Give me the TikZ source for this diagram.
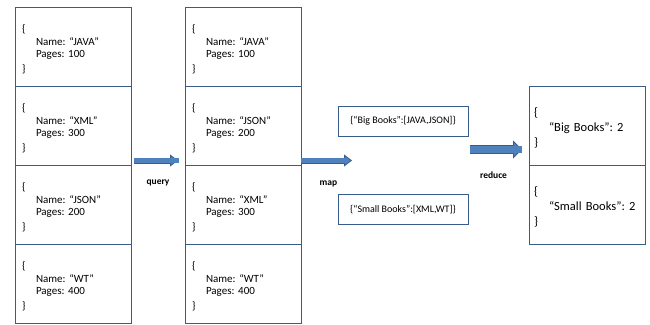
\documentclass[tikz,border=0pt]{standalone}
\usepackage{fontspec}
\setmainfont{Carlito}
\usetikzlibrary{positioning,arrows.meta}

\definecolor{boxline}{HTML}{385D8A}
\definecolor{arrowfill}{HTML}{4F81BD}
\definecolor{arrowedge}{HTML}{385D8A}

% one book record
\newcommand{\book}[2]{\rule{0pt}{14pt}\{\\[1pt]\hspace*{14pt}Name: “#1”\\\hspace*{14pt}Pages: #2\\[3pt]\}}

\begin{document}
\frenchspacing
\begin{tikzpicture}
  [
    x                  = 1pt,
    y                  = -1pt,
    bookbox/.style     = {draw=boxline, line width=1pt, outer sep=0pt, align=left, text width=102pt,
                          inner xsep=7pt, minimum height=79pt, font=\fontsize{11}{12}\selectfont},
    groupbox/.style    = {draw=boxline, line width=1pt, outer sep=0pt, minimum width=130pt,
                          minimum height=30pt, inner sep=0pt, font=\fontsize{10}{12}\selectfont},
    countbox/.style    = {draw=boxline, line width=1pt, outer sep=0pt, align=left, text width=106pt,
                          inner xsep=5pt, minimum height=79pt, font=\fontsize{12.5}{15}\selectfont},
    blockarrow/.style  = {draw=arrowedge, line width=6pt,
                          -{Triangle[length=8pt, width=12pt, line width=0.8pt, fill=arrowfill]},
                          postaction={draw=arrowfill, line width=4.4pt, -, shorten >=6pt}},
    bigarrow/.style    = {draw=arrowedge, line width=9pt,
                          -{Triangle[length=9pt, width=18pt, line width=0.8pt, fill=arrowfill]},
                          postaction={draw=arrowfill, line width=7.4pt, -, shorten >=7pt}},
    steplabel/.style   = {font=\bfseries\fontsize{9.5}{11}\selectfont, inner sep=0pt}
  ]
  \useasboundingbox (0,0) rectangle (650,324);

  % input records
  \node[bookbox] (a1) at (73,46.5) {\book{JAVA}{100}};
  \node[bookbox, below=0pt of a1] (a2) {\book{XML}{300}};
  \node[bookbox, below=0pt of a2] (a3) {\book{JSON}{200}};
  \node[bookbox, below=0pt of a3] (a4) {\book{WT}{400}};

  % after query
  \node[bookbox] (b1) at (243,46.5) {\book{JAVA}{100}};
  \node[bookbox, below=0pt of b1] (b2) {\book{JSON}{200}};
  \node[bookbox, below=0pt of b2] (b3) {\book{XML}{300}};
  \node[bookbox, below=0pt of b3] (b4) {\book{WT}{400}};

  % after map
  \node[groupbox] (big)   at (403,121)   {\{“Big Books”:[JAVA,JSON]\}};
  \node[groupbox] (small) at (403,209.5) {\{“Small Books”:[XML,WT]\}};

  % after reduce
  \node[countbox] (r1) at (587,125.5)
    {\rule{0pt}{13pt}\{\\[0pt]\hspace*{15pt}“Big Books”: 2\\[0pt]\}};
  \node[countbox, below=0pt of r1] (r2)
    {\rule{0pt}{13pt}\{\\[0pt]\hspace*{15pt}“Small Books”: 2\\[0pt]\}};

  \coordinate (mapend) at (352,160.5);
  \coordinate (redstart) at (470,149.5);

  \draw[blockarrow, shorten <=3pt, shorten >=7pt]
    ([yshift=4.5pt]a3.north east) -- ([yshift=4.5pt]b3.north west)
    node[steplabel, midway, below=16pt] {query};
  \draw[blockarrow]
    ([yshift=4.5pt]b3.north east) -- (mapend)
    node[steplabel, midway, below=17pt, xshift=2pt] {map};
  \draw[bigarrow, shorten >=7pt]
    (redstart) -- ([yshift=15.5pt]r2.north west)
    node[steplabel, midway, below=18pt, xshift=-6pt] {reduce};
\end{tikzpicture}
\end{document}
